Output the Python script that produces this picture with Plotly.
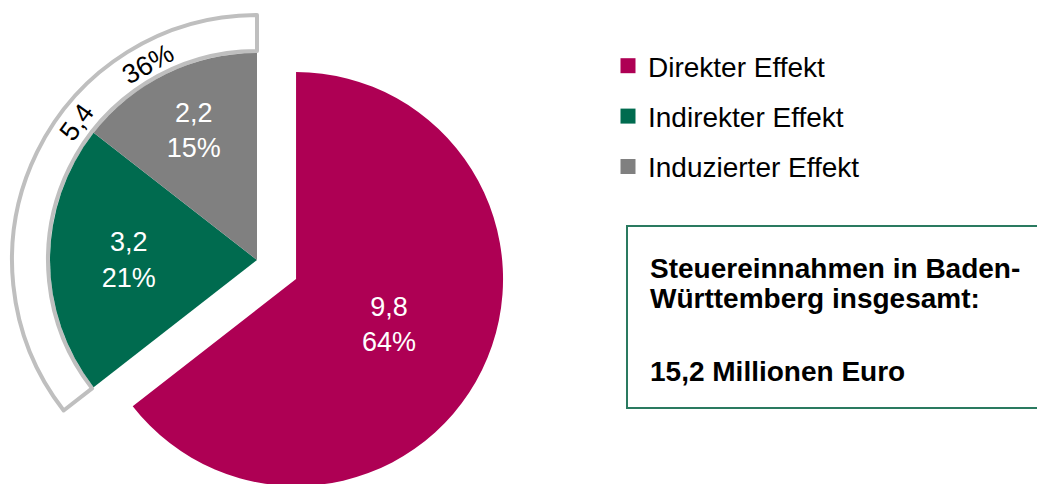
import plotly.graph_objects as go

# ---- data ----
categories = ["Direkter Effekt", "Indirekter Effekt", "Induzierter Effekt"]
values = [9.8, 3.2, 2.2]                 # Mio. Euro
percent_labels = ["64%", "21%", "15%"]
ring_percent_label = "36%"               # indirekt + induziert
total_label = "15,2 Millionen Euro"
box_lines = ["Steuereinnahmen in Baden-", "Württemberg insgesamt:"]

colors = ["#AE0054", "#006B4F", "#808080"]
ring_line = "#BFBFBF"
box_line = "#2A7A60"

W, H = 1037, 520


def fmt(v):
    return f"{v:.1f}".replace(".", ",")


def px(x):
    return x / W


def py(y):
    return 1 - y / H


slice_text = [f"{fmt(v)}<br>{p}" for v, p in zip(values, percent_labels)]
ring_value = values[1] + values[2]

fig = go.Figure()

# outer ring marking indirect + induced
fig.add_trace(go.Pie(
    values=[values[0], ring_value],
    labels=["_rest", "_ring"],
    hole=209 / 245,
    sort=False, direction="clockwise", rotation=0,
    marker=dict(colors=["rgba(0,0,0,0)", "white"],
                line=dict(color=["rgba(0,0,0,0)", ring_line], width=[0, 4])),
    textinfo="none", hoverinfo="skip", showlegend=False,
    domain=dict(x=[px(257 - 245), px(257 + 245)], y=[py(260 + 245), py(260 - 245)]),
))

# main pie, direct effect pulled out
pull = 0.21
R = 207 * (1 + pull)
fig.add_trace(go.Pie(
    labels=categories, values=values,
    sort=False, direction="clockwise", rotation=0,
    pull=[pull, 0, 0],
    marker=dict(colors=colors, line=dict(width=0)),
    text=slice_text, textinfo="text", textposition="inside",
    insidetextorientation="horizontal",
    textfont=dict(family="Liberation Sans, Arial", size=27, color="white"),
    showlegend=False,
    domain=dict(x=[px(257 - R), px(257 + R)], y=[py(260 + R), py(260 - R)]),
))

# legend entries
for i, (c, col) in enumerate(zip(categories, colors)):
    fig.add_trace(go.Scatter(
        x=[None], y=[None], mode="markers", name=c, legendgroup=f"g{i}",
        marker=dict(symbol="square", size=15, color=col, line=dict(width=0)),
        showlegend=True,
    ))

annotations = [
    dict(text=fmt(ring_value), x=px(77), y=py(122), textangle=-54),
    dict(text=ring_percent_label, x=px(148), y=py(64), textangle=-29),
]
for a in annotations:
    a.update(xref="paper", yref="paper", showarrow=False, xanchor="center", yanchor="middle",
             font=dict(family="Liberation Sans, Arial", size=27, color="black"))

box_y = [268, 298, 371]
for t, y in zip(box_lines + [total_label], box_y):
    annotations.append(dict(
        text=f"<b>{t}</b>", x=px(648), y=py(y), xref="paper", yref="paper",
        xanchor="left", yanchor="middle", showarrow=False,
        font=dict(family="Liberation Sans, Arial", size=28, color="black"),
    ))

fig.update_layout(
    width=W, height=H,
    margin=dict(l=0, r=0, t=0, b=0),
    paper_bgcolor="white", plot_bgcolor="white",
    xaxis=dict(visible=False, range=[0, 1]),
    yaxis=dict(visible=False, range=[0, 1]),
    showlegend=True,
    legend=dict(x=px(608), y=py(41), xanchor="left", yanchor="top",
                tracegroupgap=11, bgcolor="rgba(0,0,0,0)",
                font=dict(family="Liberation Sans, Arial", size=28, color="black")),
    annotations=annotations,
    shapes=[dict(type="rect", xref="paper", yref="paper",
                 x0=px(627), x1=px(1060), y0=py(408), y1=py(226),
                 line=dict(color=box_line, width=2), fillcolor="rgba(0,0,0,0)")],
)

fig.write_html("out.html", config={"displayModeBar": False},
               post_script="document.body.style.margin='0';document.body.style.overflow='hidden';")
